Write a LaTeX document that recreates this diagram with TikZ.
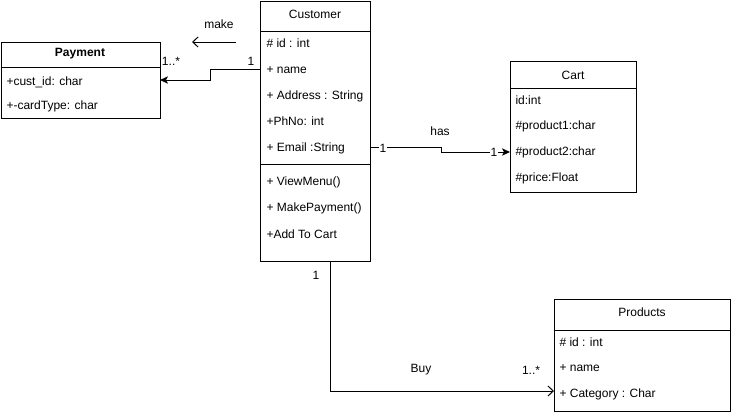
\documentclass[tikz,border=0pt]{standalone}
\usepackage{fontspec}
\setmainfont{Liberation Sans}
\usetikzlibrary{arrows.meta,fit}
\begin{document}
\begin{tikzpicture}[x=0.75pt,y=-0.75pt,line width=0.75pt,
  box/.style={draw,inner sep=0pt},
  txt/.style={anchor=west,inner sep=0pt,font=\fontsize{9}{11}\selectfont},
  ttl/.style={inner sep=0pt,font=\fontsize{9}{11}\selectfont},
  lbl/.style={inner sep=1pt,font=\fontsize{9}{11}\selectfont},
  lblw/.style={inner sep=0.5pt,fill=white,font=\fontsize{9}{11}\selectfont},
  filledtip/.style={-{Stealth[length=6pt,width=5.5pt,inset=1.5pt]}},
  opentip/.style={-{Straight Barb[length=4pt,width=7.5pt]}}
]
\useasboundingbox (0,0) rectangle (742,412);

% Customer
\node[box,fit={(260,1)(370,261)}] (cust) {};
\draw (260,31) -- (370,31);
\draw (260,164) -- (370,164);
\node[ttl] (custt) at (315,14) {Customer};
\node[txt] (c1) at (266,43) {\# id : int};
\node[txt] (c2) at (266,70) {+ name};
\node[txt] (c3) at (266,96) {+ Address : String};
\node[txt] (c4) at (266,121) {+PhNo: int};
\node[txt] (c5) at (266,148) {+ Email :String};
\node[txt] (c6) at (266,182) {+ ViewMenu()};
\node[txt] (c7) at (266,208) {+ MakePayment()};
\node[txt] (c8) at (266,234) {+Add To Cart};

% Payment
\node[box,fit={(1,42)(160,118)}] (pay) {};
\draw (1,67) -- (160,67);
\node[ttl,font=\fontsize{9}{11}\selectfont\bfseries] (payt) at (80,54) {Payment};
\node[txt] (p1) at (6,82) {+cust\_id: char};
\node[txt] (p2) at (6,106) {+-cardType: char};

% Cart
\node[box,fit={(510,61)(636,192)}] (cart) {};
\draw (510,88) -- (636,88);
\node[ttl] (cartt) at (573,75) {Cart};
\node[txt] (k1) at (515,100) {id:int};
\node[txt] (k2) at (515,126) {\#product1:char};
\node[txt] (k3) at (515,152) {\#product2:char};
\node[txt] (k4) at (515,178) {\#price:Float};

% Products
\node[box,fit={(554,299)(730,411)}] (prod) {};
\draw (554,330) -- (730,330);
\node[ttl] (prodt) at (642,312) {Products};
\node[txt] (r1) at (559,342) {\# id : int};
\node[txt] (r2) at (559,368) {+ name};
\node[txt] (r3) at (559,394) {+ Category : Char};

% connector end points
\coordinate (m1) at (236,42);
\coordinate (m2) at (192,42);
\coordinate (e1) at (260,69);
\coordinate (e2) at (160,80);
\coordinate (h1) at (370,147);
\coordinate (h2) at (510,152);
\coordinate (b1) at (330,261);
\coordinate (b2) at (554,391);

% make
\draw[opentip] (m1) -- (m2);
\node[lbl] (makel) at (219,24) {make};

% Customer -> Payment
\draw[filledtip] (e1) -- ++(-50,0) |- (e2);
\node[lbl] (pm1) at (171,61) {1..*};
\node[lbl] (pm2) at (251,61) {1};

% has
\draw[filledtip] (h1) -- ++(71,0) |- (h2);
\node[lbl] (hasl) at (440,131) {has};
\node[lblw] (hm1) at (383,148) {1};
\node[lblw] (hm2) at (494,152) {1};

% Buy
\draw[opentip] (b1) |- (b2);
\node[lbl] (buyl) at (421,370) {Buy};
\node[lbl] (bm1) at (316,275) {1};
\node[lbl] (bm2) at (531,370) {1..*};
\end{tikzpicture}
\end{document}
